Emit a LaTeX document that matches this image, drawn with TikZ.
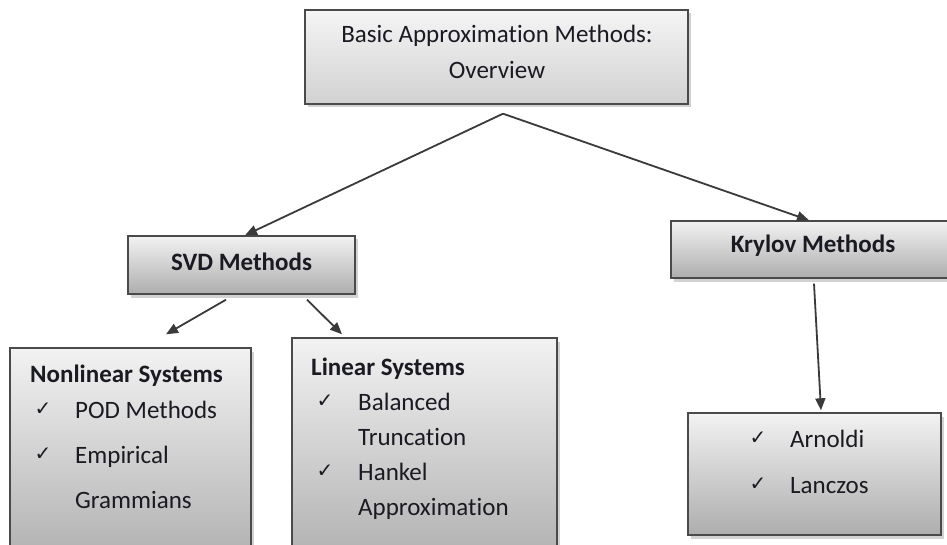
\documentclass[tikz,border=0pt]{standalone}
\usepackage{fontspec}
\setmainfont[Ligatures=NoCommon]{Carlito}
\newfontfamily\symfont{DejaVu Sans}
\usetikzlibrary{arrows.meta,shadows,calc}
\definecolor{edge}{HTML}{4A4A4A}
\definecolor{ink}{HTML}{1A1A22}
\definecolor{arr}{HTML}{3A3A3A}
\tikzset{
  box/.style={draw=edge, line width=1.4pt, inner sep=0pt, top color=#1, bottom color=black!32!white,
    drop shadow={opacity=0.35, shadow xshift=2.5pt, shadow yshift=-3.5pt}, text=ink, align=center},
  box/.default={black!5!white},
  txt/.style={inner sep=0pt, anchor=base west, text=ink},
  chk/.style={inner sep=0pt, anchor=center, text=ink, font=\symfont\bfseries\fontsize{20}{24}\selectfont},
  conn/.style={draw=arr, line width=1.8pt, -{Triangle[length=12pt,width=10pt]}}
}
\begin{document}
\begin{tikzpicture}[x=1pt,y=-1pt]
\useasboundingbox (0,0) rectangle (947,545);
\clip (0,0) rectangle (947,545);
\fill[white] (0,0) rectangle (947,545);
\fontsize{25}{36}\selectfont
% top box
\node[box={black!4!white}, bottom color=black!18!white, minimum width=383pt, minimum height=94pt] (top) at (496.5,57) {};
\node[inner sep=0pt, anchor=base, text=ink] (t1) at (497,43) {Basic Approximation Methods:};
\node[inner sep=0pt, anchor=base, text=ink] (t2) at (497,79) {Overview};
% SVD
\node[box, minimum width=227pt, minimum height=58pt] (svd) at (241.5,265) {};
\node[inner sep=0pt, anchor=base, text=ink, font=\bfseries] (svdt) at (241.5,270) {SVD Methods};
% Krylov
\node[box, minimum width=280pt, minimum height=57pt] (kry) at (811,249.5) {};
\node[inner sep=0pt, anchor=base, text=ink, font=\bfseries] (kryt) at (813,253) {Krylov Methods};
% Nonlinear
\node[box, minimum width=241pt, minimum height=222pt] (nl) at (130.5,459) {};
\node[txt, font=\bfseries] (nlh) at (30,382) {Nonlinear Systems};
\node[chk] (c1) at (43,409) {✓};
\node[txt] (nl1) at (75,418) {POD Methods};
\node[chk] (c2) at (43,454) {✓};
\node[txt] (nl2) at (75,463) {Empirical};
\node[txt] (nl3) at (75,508) {Grammians};
% Linear
\node[box, minimum width=265pt, minimum height=232pt] (lin) at (424.5,454) {};
\node[txt, font=\bfseries] (linh) at (311,375) {Linear Systems};
\node[chk] (c3) at (325,401) {✓};
\node[txt] (l1) at (358,410) {Balanced};
\node[txt] (l2) at (358,445) {Truncation};
\node[chk] (c4) at (325,471) {✓};
\node[txt] (l3) at (358,480) {Hankel};
\node[txt] (l4) at (358,515) {Approximation};
% Arnoldi / Lanczos
\node[box, minimum width=253pt, minimum height=122pt] (kl) at (814.5,474) {};
\node[chk] (c5) at (758,438) {✓};
\node[txt] (k1) at (790,447) {Arnoldi};
\node[chk] (c6) at (758,484) {✓};
\node[txt] (k2) at (790,493) {Lanczos};
% connectors
\draw[conn] ([xshift=6.5pt,yshift=-9pt]top.south) -- ([xshift=3.5pt]svd.north);
\draw[conn] ([xshift=6.5pt,yshift=-9pt]top.south) -- ([xshift=-2pt]kry.north);
\draw[conn] ([xshift=-15.5pt,yshift=-5pt]svd.south) -- ([xshift=35.5pt,yshift=13pt]nl.north);
\draw[conn] ([xshift=65.5pt,yshift=-5pt]svd.south) -- ([xshift=-82.5pt,yshift=3pt]lin.north);
\draw[conn] ([xshift=3pt,yshift=-5pt]kry.south) -- ([xshift=6.5pt,yshift=2pt]kl.north);
\end{tikzpicture}
\end{document}
